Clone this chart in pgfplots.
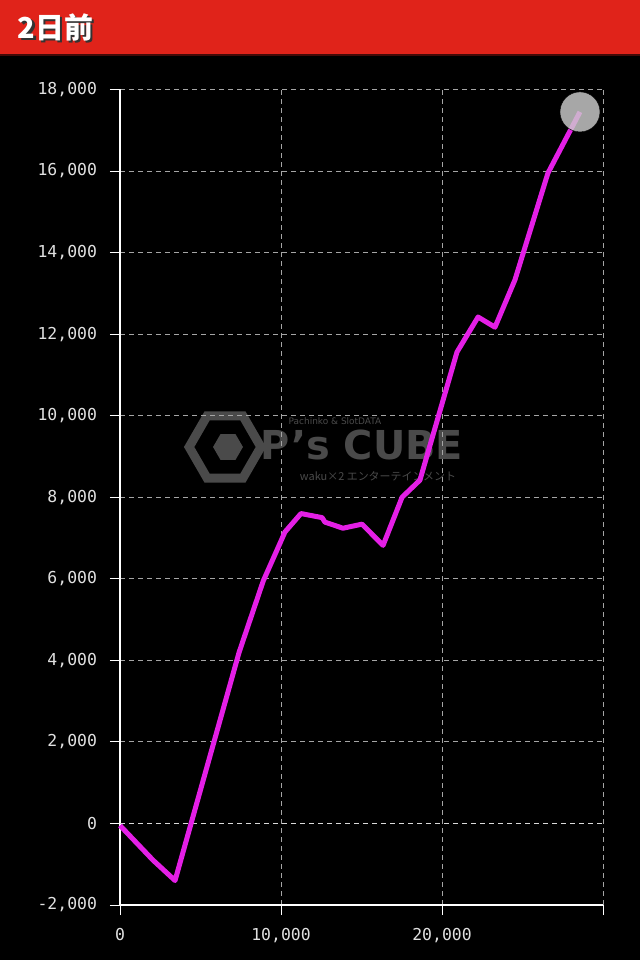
\documentclass[border=0pt]{standalone}
\usepackage{fontspec}
\setmonofont{DejaVu Sans Mono}
\newfontfamily\cjk{Noto Sans CJK JP}
\newfontfamily\wmfont{DejaVu Sans}
\usepackage{pgfplots}
\pgfplotsset{compat=1.18}
\usetikzlibrary{shapes.geometric,backgrounds}

\definecolor{hdrred}{HTML}{E0231A}
\definecolor{linemag}{HTML}{E41FE6}
\definecolor{gridgray}{HTML}{A5A5A5}
\definecolor{wmgray}{HTML}{4A4A4A}

\begin{document}
\begin{tikzpicture}
\begin{axis}[
    scale only axis,
    width=483bp, height=815.5bp,
    xmin=0, xmax=30000,
    ymin=-2000, ymax=18000,
    scaled x ticks=false, scaled y ticks=false,
    xtick={0,10000,20000,30000},
    xticklabels={0,{10,000},{20,000},{}},
    ytick={-2000,0,2000,4000,6000,8000,10000,12000,14000,16000,18000},
    yticklabels={{-2,000},0,{2,000},{4,000},{6,000},{8,000},{10,000},{12,000},{14,000},{16,000},{18,000}},
    axis lines*=left,
    axis line style={white, line width=1.3pt},
    tick align=outside,
    major tick length=10bp,
    tick style={white, line width=1pt},
    grid=major,
    major grid style={gridgray, dashed, dash pattern=on 5bp off 4bp, line width=1pt},
    tick label style={text=white!88!black, font=\ttfamily\fontsize{16.5}{16.5}\selectfont},
    yticklabel style={xshift=-9.5bp},
    xticklabel style={yshift=-10bp},
    clip=false,
]
\coordinate (O) at (axis cs:0,-2000);
\addplot[draw=white!85!black, dashed, dash pattern=on 5bp off 4bp, line width=1.2pt, forget plot] coordinates {(0,0) (30000,0)};
\addplot[linemag, line width=5bp, line join=round, mark=none] coordinates {
(0,-50) (2050,-900) (3420,-1400) (7400,4200) (8900,5950) (10250,7150)
(11240,7600) (12550,7500) (12730,7390) (13850,7240) (15030,7340)
(16340,6820) (17520,8000) (18630,8420) (20930,11560) (22240,12420)
(23290,12170) (24530,13330) (26580,15950) (28570,17450)
};
\addplot[only marks, mark=*, mark size=20bp, mark options={draw=none, fill=white!80!black, fill opacity=0.82}] coordinates {(28570,17450)};
\end{axis}
\begin{scope}[on background layer, shift={(O)}, x=1bp, y=1bp, xshift=-120bp, yshift=-55bp]
\fill[black] (0,0) rectangle (640,960);
% header bar
\fill[hdrred] (0,906) rectangle (640,960);
\fill[black!70!hdrred] (0,904) rectangle (640,906);
\node[anchor=west,text=black!80,font=\cjk\bfseries\fontsize{29}{29}\selectfont] at (16.5,930.5) {2日前};
\node[anchor=west,text=white,font=\cjk\bfseries\fontsize{29}{29}\selectfont] at (14,933) {2日前};
% watermark
\node[regular polygon,regular polygon sides=6,draw=wmgray,line width=9,minimum size=72] at (225,513) {};
\node[regular polygon,regular polygon sides=6,fill=wmgray,minimum size=30] at (228,513) {};
\node[text=wmgray,font=\wmfont\bfseries\fontsize{40}{40}\selectfont] at (362,515) {P’s CUBE};
\node[text=wmgray,font=\wmfont\fontsize{9}{9}\selectfont] at (335,539) {Pachinko \& SlotDATA};
\node[text=wmgray,font=\cjk\fontsize{11}{11}\selectfont] at (378,484) {waku×2 エンターテインメント};
\end{scope}
\pgfresetboundingbox
\path[use as bounding box, shift={(O)}, x=1bp, y=1bp, xshift=-120bp, yshift=-55bp] (0,0) rectangle (640,960);
\end{tikzpicture}
\end{document}
